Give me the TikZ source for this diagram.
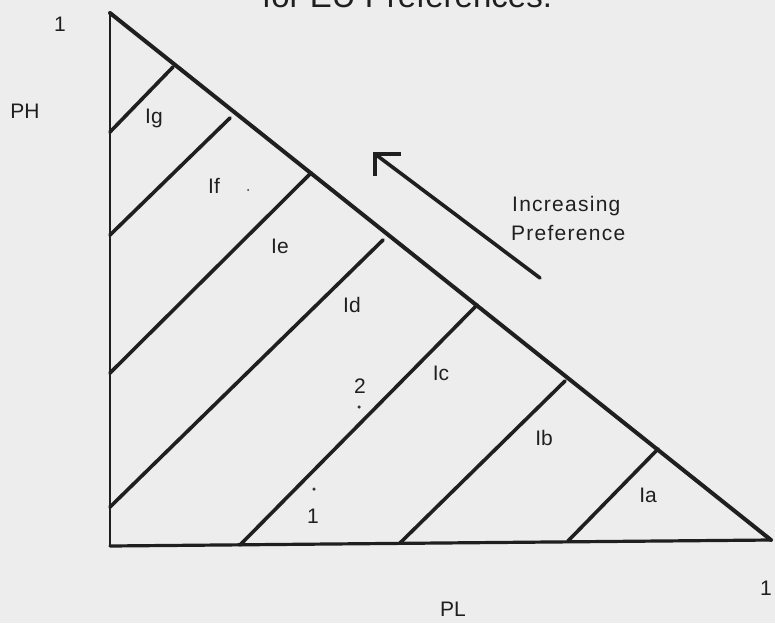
\documentclass[tikz,border=0pt]{standalone}
\usepackage{fontspec}
\setmainfont{Liberation Sans}
\begin{document}
\begin{tikzpicture}[x=1pt,y=-1pt,
  ink/.style={draw=black!88, line cap=round, line join=round},
  outer/.style={ink, line width=3.2pt},
  leftedge/.style={ink, line width=2pt},
  hyp/.style={ink, line width=4pt},
  iso/.style={ink, line width=3.6pt},
  lab/.style={font=\fontsize{21}{25}\selectfont, text=black!88, inner sep=0pt, anchor=base},
  wordlab/.style={font=\fontsize{21}{25}\selectfont\addfontfeature{LetterSpace=6}, text=black!88, inner sep=0pt, anchor=base west},
  speck/.style={fill=black!80, circle, inner sep=0pt, minimum size=#1}]
\fill[black!7] (0,0) rectangle (775,623);
\useasboundingbox (0,0) rectangle (775,623);
\clip (0,0) rectangle (775,623);

% title (cut off at the top of the page, as in the scan)
\node[anchor=base west, font=\fontsize{33}{36}\selectfont, text=black!88, inner sep=0pt] (title) at (262,8) {for EU Preferences.};

% triangle
\coordinate (A) at (110,13);
\coordinate (B) at (110,546);
\coordinate (C) at (771,540);
\draw[leftedge] (A) -- (B);
\draw[outer] (B) -- (C);
\draw[hyp] (A) -- (C);

% indifference lines
\coordinate (g1) at (110,132); \coordinate (g2) at (173,67);
\coordinate (f1) at (110,235); \coordinate (f2) at (230,118);
\coordinate (e1) at (110,373); \coordinate (e2) at (311,173);
\coordinate (d1) at (110,507); \coordinate (d2) at (383,240);
\coordinate (c1) at (240,545); \coordinate (c2) at (477,305);
\coordinate (b1) at (400,543); \coordinate (b2) at (565,381);
\coordinate (a1) at (568,541); \coordinate (a2) at (658,449);
\draw[iso] (g1) -- (g2);
\draw[iso] (f1) -- (f2);
\draw[iso] (e1) -- (e2);
\draw[iso] (d1) -- (d2);
\draw[iso] (c1) -- (c2);
\draw[iso] (b1) -- (b2);
\draw[iso] (a1) -- (a2);

% arrow of increasing preference
\coordinate (tip) at (375,154);
\coordinate (tail) at (540,278);
\coordinate (armH) at (401,154);
\coordinate (armV) at (375,176);
\draw[iso] (tail) -- (tip);
\draw[iso, line cap=butt, line join=miter] (armH) -- (tip) -- (armV);
\node[wordlab] (inc) at (512,211) {Increasing};
\node[wordlab] (pref) at (511,240) {Preference};

% labels
\node[lab] (oneTop) at (60,32) {1};
\node[lab] (PH) at (25,118) {PH};
\node[lab] (Ig) at (154,123) {Ig};
\node[lab] (If) at (214,193) {If};
\node[lab] (Ie) at (280,253) {Ie};
\node[lab] (Id) at (352,312) {Id};
\node[lab] (two) at (360,393) {2};
\node[lab] (Ic) at (441,380) {Ic};
\node[lab] (Ib) at (544,445) {Ib};
\node[lab] (Ia) at (648,502) {Ia};
\node[lab] (oneLow) at (313,523) {1};
\node[lab] (oneRight) at (766,595) {1};
\node[lab] (PL) at (453,616) {PL};

% dots
\node[speck=3.5pt] (dotTwo) at (359,407) {};
\node[speck=3.5pt] (dotOne) at (314,489) {};
\node[speck=2pt] (dotF) at (248,190) {};
\end{tikzpicture}
\end{document}
